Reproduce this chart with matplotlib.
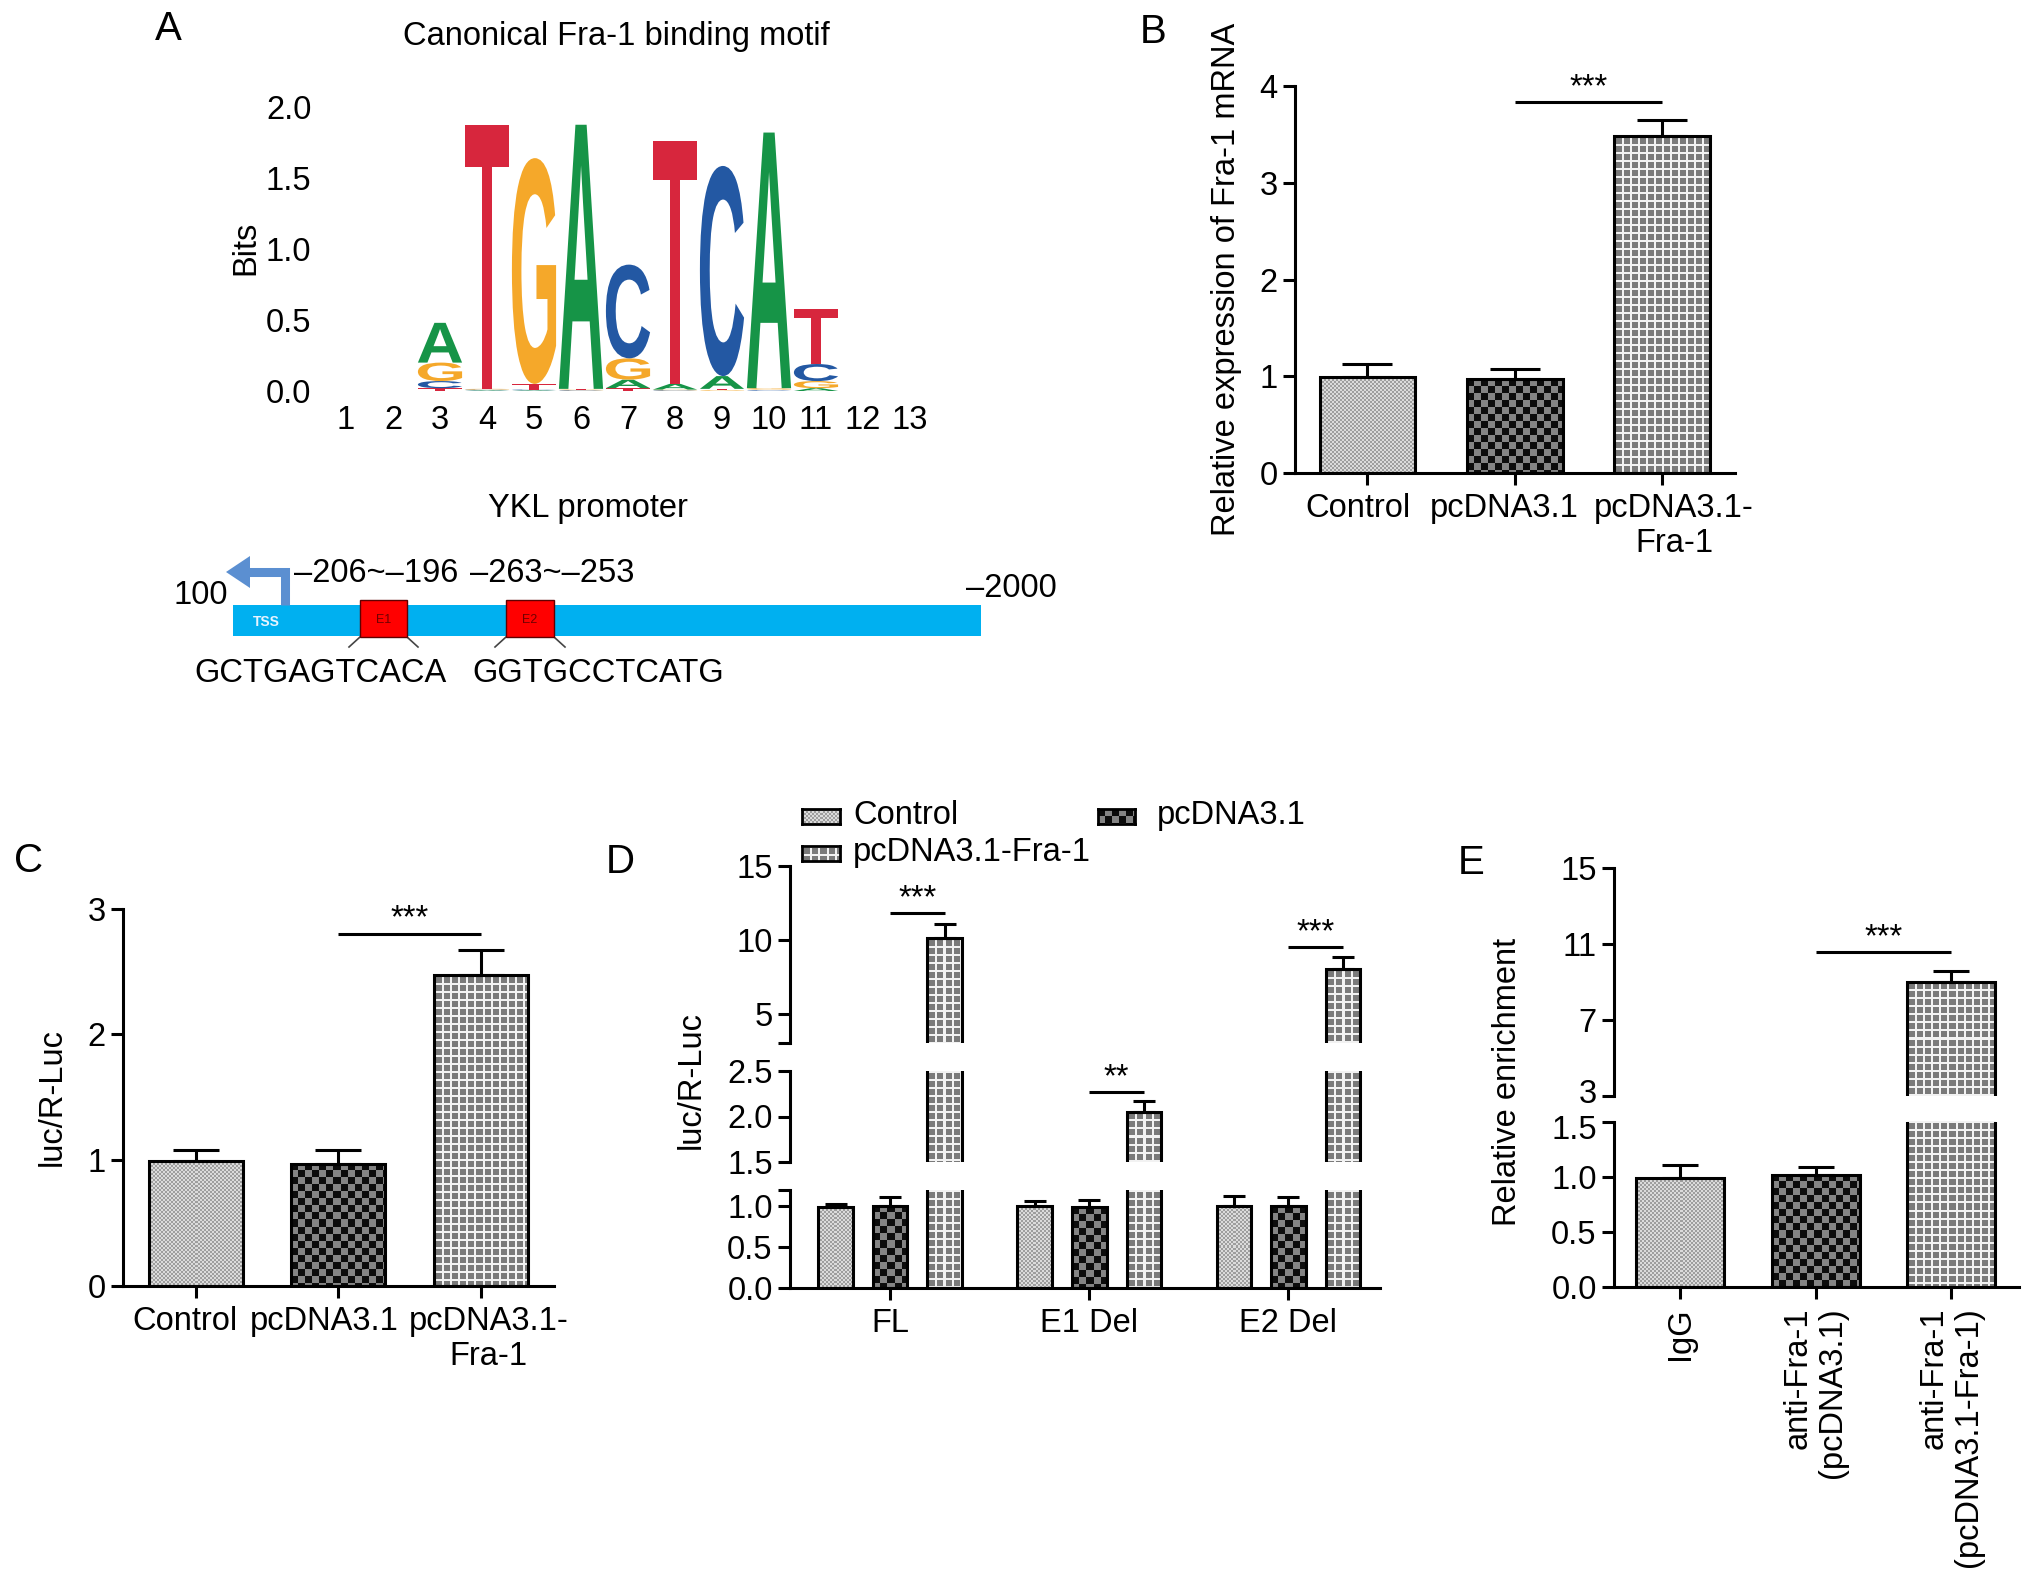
import numpy as np
import matplotlib
matplotlib.use('Agg')
import matplotlib.pyplot as plt
from matplotlib.textpath import TextPath
from matplotlib.patches import PathPatch, Rectangle, Polygon
from matplotlib.font_manager import FontProperties
from matplotlib.transforms import Affine2D, offset_copy, ScaledTranslation

plt.rcParams['font.family'] = ['Liberation Sans', 'DejaVu Sans']

W, H, DPI = 2032, 1585, 100
FS = 23.5
LW = 2.2

# ---------------- data ----------------
motif_positions = list(range(1, 14))
motif_A = [0, 0, 0.28, 0.005, 0.005, 1.86, 0.06, 0.04, 0.09, 1.80, 0.02, 0, 0]
motif_C = [0, 0, 0.05, 0.005, 0.005, 0.005, 0.66, 0.005, 1.48, 0.005, 0.12, 0, 0]
motif_G = [0, 0, 0.13, 0.005, 1.59, 0.005, 0.15, 0.005, 0.005, 0.01, 0.05, 0, 0]
motif_T = [0, 0, 0.02, 1.86, 0.04, 0.005, 0.02, 1.71, 0.01, 0.005, 0.39, 0, 0]
motif_yticks = [0.0, 0.5, 1.0, 1.5, 2.0]

promoter_ends = ['100', '\u20132000']
element_names = ['E1', 'E2']
element_ranges = ['\u2013206~\u2013196', '\u2013263~\u2013253']
element_seqs = ['GCTGAGTCACA', 'GGTGCCTCATG']

groups_BC = ['Control', 'pcDNA3.1', 'pcDNA3.1-\nFra-1']
B_mean = [0.99, 0.97, 3.48]
B_err = [0.14, 0.10, 0.17]
B_sig_y = 3.83
C_mean = [0.99, 0.97, 2.47]
C_err = [0.09, 0.11, 0.20]
C_sig_y = 2.80

D_groups = ['FL', 'E1 Del', 'E2 Del']
D_series = ['Control', 'pcDNA3.1', 'pcDNA3.1-Fra-1']
D_ctrl = [0.99, 1.00, 1.01]
D_ctrl_err = [0.04, 0.06, 0.12]
D_pc = [1.01, 0.99, 1.00]
D_pc_err = [0.11, 0.09, 0.12]
D_fra = [10.1, 2.05, 8.0]
D_fra_err = [0.95, 0.12, 0.85]
D_sig = ['***', '**', '***']
D_sig_y = [11.8, 2.27, 9.5]

E_groups = ['IgG', 'anti-Fra-1\n(pcDNA3.1)', 'anti-Fra-1\n(pcDNA3.1-Fra-1)']
E_mean = [0.99, 1.02, 9.0]
E_err = [0.12, 0.07, 0.58]
E_sig_y = 10.58

# ---------------- helpers ----------------
fig = plt.figure(figsize=(W / DPI, H / DPI), dpi=DPI)


def add_ax(x0, y0, x1, y1):
    return fig.add_axes([x0 / W, 1 - y1 / H, (x1 - x0) / W, (y1 - y0) / H])


def ftext(x, y, s, **kw):
    kw.setdefault('fontsize', FS)
    kw.setdefault('ha', 'center')
    kw.setdefault('va', 'center')
    return fig.text(x / W, 1 - y / H, s, **kw)


def nudge(label, dx_px=0, dy_px=0):
    label.set_transform(label.get_transform() +
                        ScaledTranslation(dx_px / DPI, -dy_px / DPI, fig.dpi_scale_trans))


def pattern(kind, h, w):
    yy, xx = np.mgrid[0:h, 0:w]
    if kind == 0:
        m = ((xx // 2 + yy // 2) % 2) == 0
        img = np.where(m, 0.86, 0.62)
    elif kind == 1:
        m = ((xx // 7 + yy // 7) % 2) == 0
        img = np.where(m, 0.05, 0.52)
    else:
        m = (xx % 8 < 2) | (yy % 8 < 2)
        img = np.where(m, 0.95, 0.48)
    return np.dstack([img] * 3)


def style(ax, bottom=True):
    ax.spines['top'].set_visible(False)
    ax.spines['right'].set_visible(False)
    ax.spines['left'].set_linewidth(LW)
    if bottom:
        ax.spines['bottom'].set_linewidth(LW)
    else:
        ax.spines['bottom'].set_visible(False)
        ax.tick_params(axis='x', bottom=False, labelbottom=False)
    ax.tick_params(axis='both', direction='out', length=8.5, width=LW,
                   labelsize=FS, pad=4)
    ax.patch.set_alpha(0)


def draw_bars(ax, xs, vals, width, kinds, errs, capsize):
    ax.set_autoscale_on(False)
    xlim = ax.get_xlim()
    ylo, yhi = ax.get_ylim()
    bars = ax.bar(xs, vals, width, facecolor='none', edgecolor='black',
                  linewidth=LW, zorder=3)
    for rect, k in zip(bars, kinds):
        x0 = rect.get_x()
        x1 = x0 + rect.get_width()
        y0 = max(rect.get_y(), ylo)
        y1 = min(rect.get_y() + rect.get_height(), yhi)
        if y1 <= y0:
            continue
        p0 = ax.transData.transform((x0, y0))
        p1 = ax.transData.transform((x1, y1))
        w = max(1, int(round(abs(p1[0] - p0[0]))))
        h = max(1, int(round(abs(p1[1] - p0[1]))))
        im = ax.imshow(pattern(k, h, w), extent=(x0, x1, y0, y1), origin='upper',
                       interpolation='nearest', aspect='auto', zorder=2)
        im.set_clip_path(rect)
    ax.errorbar(xs, vals, yerr=[np.zeros(len(vals)), errs], fmt='none',
                ecolor='black', elinewidth=LW, capsize=capsize, capthick=LW,
                zorder=2.5)
    ax.set_xlim(xlim)
    ax.set_ylim(ylo, yhi)


def sig(ax, x0, x1, y, text):
    ax.plot([x0, x1], [y, y], color='black', lw=LW, solid_capstyle='butt',
            clip_on=False, zorder=4)
    tr = offset_copy(ax.transData, fig=fig, x=0, y=6, units='dots')
    ax.text((x0 + x1) / 2, y, text, ha='center', va='baseline', fontsize=FS,
            transform=tr, clip_on=False)


# ---------------- Panel A: motif ----------------
axm = add_ax(322.5, 107, 933.5, 391)
axm.set_xlim(0.5, 13.5)
axm.set_ylim(0, 2.0)
for s in axm.spines.values():
    s.set_visible(False)
axm.set_xticks(motif_positions)
axm.set_xticklabels([str(p) for p in motif_positions])
axm.set_yticks(motif_yticks)
axm.set_yticklabels(['%.1f' % v for v in motif_yticks])
axm.tick_params(axis='both', length=0, labelsize=FS)
axm.tick_params(axis='x', pad=10)
axm.tick_params(axis='y', pad=8)
axm.patch.set_alpha(0)

fp_logo = FontProperties(family='Liberation Sans', weight='bold')
logo_colors = {'A': '#169447', 'C': '#2358a3', 'G': '#f5a82a', 'T': '#d7263d'}
letter_paths = {}
for ch in 'ACGT':
    letter_paths[ch] = TextPath((0, 0), ch, size=1, prop=fp_logo)

for i, pos in enumerate(motif_positions):
    heights = {'A': motif_A[i], 'C': motif_C[i], 'G': motif_G[i], 'T': motif_T[i]}
    y0 = 0.0
    for ch, h in sorted(heights.items(), key=lambda kv: kv[1]):
        if h <= 0:
            continue
        tp = letter_paths[ch]
        bb = tp.get_extents()
        wdt = 0.94
        tr = (Affine2D().translate(-bb.x0, -bb.y0)
              .scale(wdt / bb.width, h / bb.height)
              .translate(pos - wdt / 2, y0))
        axm.add_patch(PathPatch(tr.transform_path(tp), facecolor=logo_colors[ch],
                                edgecolor='none', zorder=2))
        y0 += h

ftext(616, 36, 'Canonical Fra-1 binding motif')
ftext(246, 248, 'Bits', rotation=90)

# ---------------- Panel A: promoter ----------------
axp = add_ax(130, 470, 1090, 700)
axp.set_xlim(130, 1090)
axp.set_ylim(700, 470)
axp.axis('off')
bar_x0, bar_x1, bar_y0, bar_y1 = 233, 981, 605, 636
axp.add_patch(Rectangle((bar_x0, bar_y0), bar_x1 - bar_x0, bar_y1 - bar_y0,
                        facecolor='#00b0f0', edgecolor='none', zorder=1))
arrow_col = '#5b8fd1'
axp.plot([285, 285, 247], [bar_y0, 572, 572], color=arrow_col, lw=6.5,
         solid_capstyle='butt', solid_joinstyle='miter', zorder=2)
axp.add_patch(Polygon([(226, 572), (250, 556), (250, 588)], closed=True,
                      facecolor=arrow_col, edgecolor='none', zorder=2))
axp.text(266, 622, 'TSS', color='#e8f4ff', fontsize=10, fontweight='bold',
         ha='center', va='center')
elem_boxes = [(360, 407), (506, 554)]
for (x0, x1), nm in zip(elem_boxes, element_names):
    axp.add_patch(Rectangle((x0, 600), x1 - x0, 37, facecolor='#ff0000',
                            edgecolor='#600000', lw=1.0, zorder=3))
    axp.text((x0 + x1) / 2, 620, nm, color='#700000', fontsize=9,
             ha='center', va='center', zorder=4)
    axp.plot([x0, x0 - 11], [637, 647], color='#444444', lw=1.2)
    axp.plot([x1, x1 + 11], [637, 647], color='#444444', lw=1.2)

ftext(588, 509, 'YKL promoter')
ftext(201, 596, promoter_ends[0])
ftext(1011, 588, promoter_ends[1])
ftext(376, 573, element_ranges[0])
ftext(552, 573, element_ranges[1])
ftext(321, 674, element_seqs[0])
ftext(598, 674, element_seqs[1])

# ---------------- Panel B ----------------
xs3 = np.arange(3)
kinds3 = [0, 1, 2]
axB = add_ax(1295, 86, 1735, 473)
axB.set_xlim(-0.492, 2.496)
axB.set_ylim(0, 4)
style(axB)
axB.set_yticks([0, 1, 2, 3, 4])
axB.set_xticks(xs3)
axB.set_xticklabels(groups_BC, linespacing=1.15)
axB.tick_params(axis='x', pad=6)
draw_bars(axB, xs3, B_mean, 0.65, kinds3, B_err, 18)
sig(axB, 1.0, 2.0, B_sig_y, '***')
for lab, dx in zip(axB.get_xticklabels(), [-10, -10, 12]):
    nudge(lab, dx_px=dx)
ftext(1226, 279, 'Relative expression of Fra-1 mRNA', rotation=90)

# ---------------- Panel C ----------------
axC = add_ax(123, 908.6, 553.6, 1286)
axC.set_xlim(-0.512, 2.51)
axC.set_ylim(0, 3)
style(axC)
axC.set_yticks([0, 1, 2, 3])
axC.set_xticks(xs3)
axC.set_xticklabels(groups_BC, linespacing=1.15)
axC.tick_params(axis='x', pad=6)
draw_bars(axC, xs3, C_mean, 0.66, kinds3, C_err, 16.5)
sig(axC, 1.0, 2.0, C_sig_y, '***')
for lab, dx in zip(axC.get_xticklabels(), [-11, -14, 8]):
    nudge(lab, dx_px=dx)
ftext(52, 1097, 'luc/R-Luc', rotation=90)

# ---------------- Panel D (broken axis) ----------------
D_xlim = (-0.503, 2.46)
D_off = 0.274
D_w = 0.173
gx = np.arange(3)
D_segments = [  # (top px, bottom px, ylo, yhi, ticks, labels)
    (866, 1043, 3, 15, [3, 5, 10, 15], ['', '5', '10', '15']),
    (1071, 1162, 1.5, 2.5, [1.5, 2.0, 2.5], ['1.5', '2.0', '2.5']),
    (1190, 1288, 0, 1.2, [0, 0.5, 1.0, 1.2], ['0.0', '0.5', '1.0', '']),
]
D_axes = []
for k, (t, b, lo, hi, tk, tl) in enumerate(D_segments):
    a = add_ax(790, t, 1380, b)
    a.set_xlim(*D_xlim)
    a.set_ylim(lo, hi)
    style(a, bottom=(k == 2))
    a.set_yticks(tk)
    a.set_yticklabels(tl)
    draw_bars(a, gx - D_off, D_ctrl, D_w, [0] * 3, D_ctrl_err, 7.7)
    draw_bars(a, gx, D_pc, D_w, [1] * 3, D_pc_err, 7.7)
    draw_bars(a, gx + D_off, D_fra, D_w, [2] * 3, D_fra_err, 7.7)
    D_axes.append(a)
D_axes[2].set_xticks(gx)
D_axes[2].set_xticklabels(D_groups)
D_axes[2].tick_params(axis='x', pad=6)
for i in range(3):
    seg = 1 if D_sig_y[i] < 3 else 0
    sig(D_axes[seg], gx[i], gx[i] + D_off, D_sig_y[i], D_sig[i])
ftext(691, 1080, 'luc/R-Luc', rotation=90)


# legend for D
def legend_patch(x0, y0, x1, y1, kind):
    a = add_ax(x0, y0, x1, y1)
    a.imshow(pattern(kind, int(y1 - y0), int(x1 - x0)), aspect='auto',
             interpolation='nearest')
    a.set_xticks([])
    a.set_yticks([])
    for s in a.spines.values():
        s.set_linewidth(2)


legend_patch(802, 809, 840, 824, 0)
legend_patch(1098, 809, 1135, 824, 1)
legend_patch(802, 846, 840, 861, 2)
ftext(853, 816, D_series[0], ha='left')
ftext(1157, 816, D_series[1], ha='left')
ftext(853, 853, D_series[2], ha='left')

# ---------------- Panel E (broken axis) ----------------
E_xlim = (-0.487, 2.50)
E_segments = [
    (868, 1096, 3, 15, [3, 7, 11, 15], ['3', '7', '11', '15']),
    (1122, 1287, 0, 1.5, [0, 0.5, 1.0, 1.5], ['0.0', '0.5', '1.0', '1.5']),
]
E_axes = []
for k, (t, b, lo, hi, tk, tl) in enumerate(E_segments):
    a = add_ax(1614, t, 2019, b)
    a.set_xlim(*E_xlim)
    a.set_ylim(lo, hi)
    style(a, bottom=(k == 1))
    a.set_yticks(tk)
    a.set_yticklabels(tl)
    draw_bars(a, xs3, E_mean, 0.65, kinds3, E_err, 13)
    E_axes.append(a)
E_axes[1].set_xticks(xs3)
E_axes[1].set_xticklabels(E_groups, rotation=90, ha='center', va='top',
                          multialignment='right', linespacing=1.15)
E_axes[1].tick_params(axis='x', pad=6)
sig(E_axes[0], 1.0, 2.0, E_sig_y, '***')
nudge(E_axes[0].get_yticklabels()[0], dy_px=-5)
nudge(E_axes[1].get_yticklabels()[3], dy_px=5)
ftext(1508, 1082, 'Relative enrichment', rotation=90)

# ---------------- panel letters ----------------
for lab, (x, y) in zip('ABCDE', [(168, 29), (1153, 32), (29, 861), (620, 862), (1471, 863)]):
    ftext(x, y, lab, fontsize=29)

fig.savefig('out.png', dpi=DPI, facecolor='white')
